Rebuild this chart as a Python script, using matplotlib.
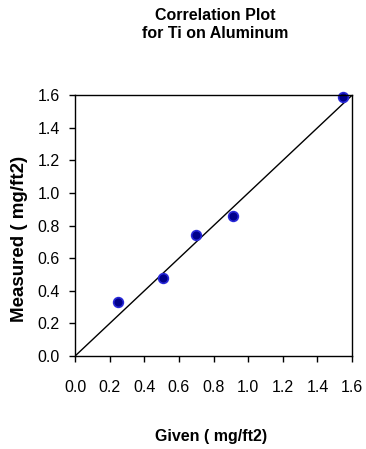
import matplotlib.pyplot as plt

plt.rcParams['font.family'] = ['Liberation Sans', 'DejaVu Sans']

given = [0.25, 0.51, 0.70, 0.91, 1.55]
measured = [0.33, 0.48, 0.74, 0.86, 1.59]
ref_line = [0.0, 1.6]
ticks = [0.0, 0.2, 0.4, 0.6, 0.8, 1.0, 1.2, 1.4, 1.6]

fig = plt.figure(figsize=(3.66, 4.49), dpi=100)
ax = fig.add_axes([0.205, 0.207, 0.757, 0.581])

ax.plot(ref_line, ref_line, color='black', lw=1.0)
ax.plot(given, measured, 'o', color='#00008b', markeredgecolor='#2828d8',
        markersize=7, markeredgewidth=1.2, clip_on=False)

ax.set_xlim(0, 1.6)
ax.set_ylim(0, 1.6)
ax.set_xticks(ticks)
ax.set_yticks(ticks)
ax.set_xticklabels(['%.1f' % t for t in ticks])
ax.set_yticklabels(['%.1f' % t for t in ticks])
ax.tick_params(direction='out', length=4, width=1, labelsize=11.5)
ax.tick_params(axis='x', pad=13)
ax.tick_params(axis='y', pad=7)
for s in ax.spines.values():
    s.set_linewidth(1.0)

fig.text(0.587, 0.966, 'Correlation Plot', ha='center', va='center',
         fontsize=11.5, fontweight='bold')
fig.text(0.587, 0.925, 'for Ti on Aluminum', ha='center', va='center',
         fontsize=11.5, fontweight='bold')
fig.text(0.577, 0.027, 'Given ( mg/ft2)', ha='center', va='center',
         fontsize=11.5, fontweight='bold')
fig.text(0.052, 0.468, 'Measured ( mg/ft2)', ha='center', va='center',
         rotation=90, fontsize=13.5, fontweight='bold')

fig.savefig('out.png', dpi=100)
